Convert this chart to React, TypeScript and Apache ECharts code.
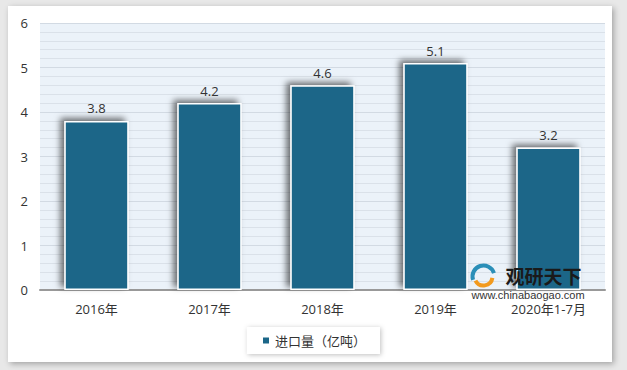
import React, { useEffect, useRef } from "react";
import * as echarts from "echarts";

const categories = ["2016年", "2017年", "2018年", "2019年", "2020年1-7月"];
const importValues = [3.8, 4.2, 4.6, 5.1, 3.2];
const seriesName = "进口量（亿吨）";

export default function App() {
  const ref = useRef<HTMLDivElement>(null);
  useEffect(() => {
    document.body.style.margin = "0";
    const chart = echarts.init(ref.current!, null, { renderer: "svg" });
    chart.setOption({
      animation: false,
      backgroundColor: "#ffffff",
      textStyle: { fontFamily: "'Open Sans', 'Noto Sans CJK SC', sans-serif" },
      grid: {
        left: 40,
        right: 22,
        top: 23,
        bottom: 80,
        show: true,
        backgroundColor: "#EBF2F9",
        borderWidth: 0,
      },
      legend: {
        bottom: 16,
        left: "center",
        padding: [7, 14, 7, 14],
        backgroundColor: "#ffffff",
        shadowColor: "rgba(0,0,0,0.25)",
        shadowBlur: 5,
        shadowOffsetX: 1,
        shadowOffsetY: 1,
        itemWidth: 8,
        itemHeight: 8,
        icon: "rect",
        textStyle: { fontSize: 13, color: "#333" },
        data: [seriesName],
      },
      xAxis: {
        type: "category",
        data: categories,
        axisLine: { lineStyle: { color: "#999", width: 2 } },
        axisTick: { show: false },
        axisLabel: { color: "#333", fontSize: 13, margin: 12 },
      },
      yAxis: {
        type: "value",
        min: 0,
        max: 6,
        interval: 1,
        axisLine: { show: false },
        axisTick: { show: false },
        axisLabel: { color: "#333", fontSize: 13, margin: 12 },
        splitLine: { lineStyle: { color: "#D2DAE3", width: 1 } },
        minorTick: { show: false, splitNumber: 5 },
        minorSplitLine: { show: true, lineStyle: { color: "#DAE1E9", width: 1 } },
      },
      series: [
        {
          name: seriesName,
          type: "bar",
          data: importValues,
          barWidth: "57%",
          itemStyle: {
            color: "#1B6688",
            borderColor: "#ffffff",
            borderWidth: 1.5,
            shadowColor: "rgba(0,0,0,0.55)",
            shadowBlur: 6,
            shadowOffsetX: -4,
            shadowOffsetY: -3,
          },
          label: {
            show: true,
            position: "top",
            distance: 6,
            color: "#333",
            fontSize: 13,
          },
        },
      ],
      graphic: [
        {
          type: "group",
          left: 470,
          top: 263,
          z: 100,
          children: [
            {
              type: "arc",
              z: 100,
              shape: { cx: 14, cy: 12, r: 11, startAngle: Math.PI * 0.9, endAngle: Math.PI * 1.9 },
              style: { stroke: "#2A8FB8", lineWidth: 4, fill: "none" },
            },
            {
              type: "arc",
              z: 100,
              shape: { cx: 14, cy: 12, r: 9, startAngle: Math.PI * 0.05, endAngle: Math.PI * 0.85 },
              style: { stroke: "#F29A1E", lineWidth: 4, fill: "none" },
            },
            {
              type: "text",
              z: 100,
              x: 36,
              y: 1,
              style: { text: "观研天下", font: "bold 19px 'Noto Sans CJK SC'", fill: "#1a1a1a" },
            },
            {
              type: "text",
              z: 100,
              x: 2,
              y: 25,
              style: { text: "www.chinabaogao.com", font: "11px 'Liberation Sans', Arial", fill: "#333" },
            },
          ],
        },
      ],
    });
    return () => chart.dispose();
  }, []);
  return (
    <div style={{ width: 627, height: 370, background: "#e8e8e8", position: "relative" }}>
      <div
        style={{
          position: "absolute",
          left: 8,
          top: 6,
          width: 604,
          height: 356,
          boxShadow: "2px 2px 6px rgba(0,0,0,0.3)",
          background: "#fff",
        }}
      />
      <div ref={ref} style={{ position: "absolute", left: 0, top: 0, width: 627, height: 370, clipPath: "inset(6px 15px 8px 8px)" }} />
    </div>
  );
}
